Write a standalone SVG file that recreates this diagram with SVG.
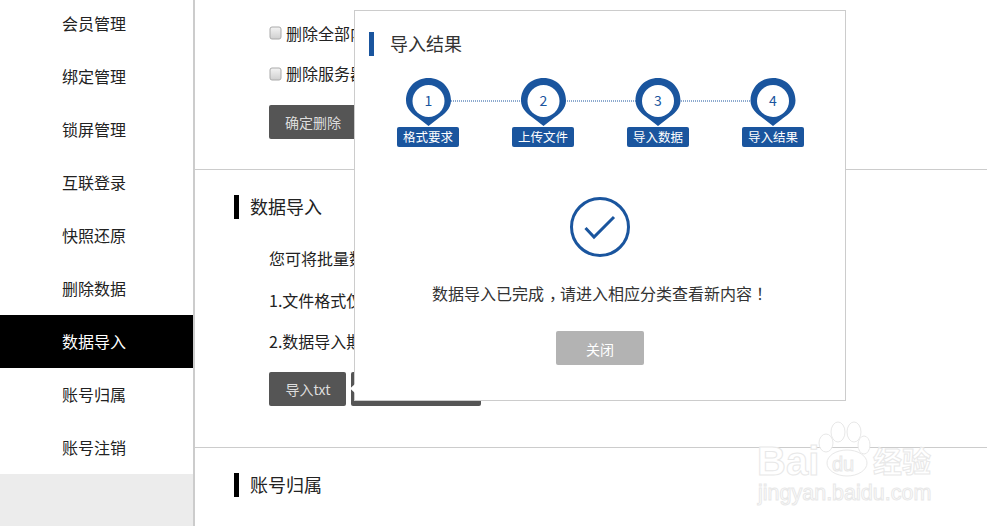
<svg xmlns="http://www.w3.org/2000/svg" width="987" height="526" viewBox="0 0 987 526">
<defs>
<style>
text{font-family:"Noto Sans CJK SC","Liberation Sans",sans-serif}
.nav{font-size:16px;fill:#222;text-anchor:middle}
.body{font-size:16px;fill:#222}
.h{font-size:18px;fill:#222}
.btn{font-size:14px;fill:#ddd;text-anchor:middle}
.line{stroke:#ccc;stroke-width:1;fill:none}
.dark{fill:#555}
.blue{fill:#1a559e}
.tag{font-size:12.5px;fill:#fff;text-anchor:middle}
.num{font-size:14px;fill:#1a559e;text-anchor:middle}
.wm{font-family:"Liberation Sans",sans-serif;fill:#fff;stroke:#e8e8e8;stroke-width:1}
.pad{fill:#fff;stroke:#e8e8e8;stroke-width:1}
</style>
<g id="pin"><path d="M0 -23C-13 -23 -22.500 -13 -22.500 -0.500C-22.500 8 -16 13 -9 18L0 25L9 18C16 13 22.500 8 22.500 -0.500C22.500 -13 13 -23 0 -23Z" class="blue"/><circle cx="0" cy="0" r="16" fill="#fff"/></g>
<linearGradient id="cb" x1="0" y1="0" x2="0" y2="1"><stop offset="0" stop-color="#f4f4f4"/><stop offset="1" stop-color="#cfcfcf"/></linearGradient>
</defs>
<rect width="987" height="526" fill="#fff"/>
<g id="sidebar">
<rect x="0" y="474" width="193" height="52" fill="#ececec"/>
<rect x="193" y="0" width="2" height="526" fill="#ccc"/>
<rect x="0" y="315" width="193" height="53" fill="#000"/>
<text class="nav" x="94" y="30">会员管理</text>
<text class="nav" x="94" y="83">绑定管理</text>
<text class="nav" x="94" y="136">锁屏管理</text>
<text class="nav" x="94" y="189">互联登录</text>
<text class="nav" x="94" y="242">快照还原</text>
<text class="nav" x="94" y="295">删除数据</text>
<text class="nav" x="94" y="348" style="fill:#fff">数据导入</text>
<text class="nav" x="94" y="401">账号归属</text>
<text class="nav" x="94" y="454">账号注销</text>
</g>
<g id="page">
<rect x="270" y="27" width="11" height="12" rx="2" fill="url(#cb)" stroke="#aaa"/>
<text class="body" x="286" y="40">删除全部内容</text>
<rect x="270" y="68" width="11" height="12" rx="2" fill="url(#cb)" stroke="#aaa"/>
<text class="body" x="286" y="80">删除服务器数据</text>
<rect x="269" y="105" width="100" height="34" rx="2" class="dark"/>
<text class="btn" x="313" y="128">确定删除</text>
<path class="line" d="M195 169.500H987M195 447.500H987"/>
<rect x="234" y="195" width="5" height="24" fill="#000"/>
<text class="h" x="250" y="214">数据导入</text>
<text class="body" x="269" y="265">您可将批量数据导入</text>
<text class="body" x="269" y="307">1.文件格式仅支持</text>
<text class="body" x="269" y="348">2.数据导入期间</text>
<rect x="269" y="372" width="77" height="34" rx="2" class="dark"/>
<text class="btn" x="308" y="395">导入txt</text>
<rect x="351" y="372" width="130" height="34" rx="2" class="dark"/>
<rect x="234" y="473" width="5" height="24" fill="#000"/>
<text class="h" x="250" y="492">账号归属</text>
</g>
<g id="modal">
<rect x="354.500" y="10.500" width="491" height="390" fill="#fff" stroke="#ccc"/>
<path d="M355 384L350 388.500L355 393Z" fill="#fff"/>
<rect x="369" y="32" width="5" height="24" class="blue"/>
<text x="390" y="51" style="font-size:18px;fill:#333">导入结果</text>
</g>
<g id="connectors">
<path d="M451 101H751" stroke="#1a559e" stroke-width="1" stroke-dasharray="1 1" fill="none"/>
</g>
<g id="step1"><use href="#pin" x="428.500" y="101"/><text class="num" x="428.500" y="106">1</text><rect x="397" y="127" width="62" height="20" rx="2" class="blue"/><text class="tag" x="428" y="141.500">格式要求</text></g>
<g id="step2"><use href="#pin" x="543.500" y="101"/><text class="num" x="543.500" y="106">2</text><rect x="512" y="127" width="62" height="20" rx="2" class="blue"/><text class="tag" x="543" y="141.500">上传文件</text></g>
<g id="step3"><use href="#pin" x="658" y="101"/><text class="num" x="658" y="106">3</text><rect x="627" y="127" width="62" height="20" rx="2" class="blue"/><text class="tag" x="658" y="141.500">导入数据</text></g>
<g id="step4"><use href="#pin" x="773" y="101"/><text class="num" x="773" y="106">4</text><rect x="742" y="127" width="62" height="20" rx="2" class="blue"/><text class="tag" x="773" y="141.500">导入结果</text></g>
<g id="result">
<circle cx="600" cy="227" r="28.500" fill="none" stroke="#1a559e" stroke-width="3"/>
<path d="M585.500 228L594 237L614 217" fill="none" stroke="#1a559e" stroke-width="3"/>
<text x="432" y="300" style="font-size:16px;fill:#333">数据导入已完成<tspan dx="5" style="letter-spacing:-5px">，</tspan>请进入相应分类查看新内容<tspan dx="4">！</tspan></text>
</g>
<g id="close"><rect x="556" y="331" width="88" height="34" rx="2" fill="#b3b3b3"/><text class="btn" x="600" y="355" style="fill:#fff">关闭</text></g>
<g id="watermark">
<text class="wm" x="757" y="475" style="font-size:40px;font-weight:700">Bai</text>
<ellipse class="pad" cx="826" cy="443" rx="7" ry="9"/><ellipse class="pad" cx="838" cy="432" rx="7" ry="10"/><ellipse class="pad" cx="854" cy="432" rx="7" ry="10"/><ellipse class="pad" cx="864" cy="445" rx="6" ry="9"/>
<ellipse class="pad" cx="847" cy="463" rx="20" ry="13"/>
<text class="wm" x="832" y="471" style="font-size:20px">du</text>
<text x="873" y="473" style="font-size:29px;font-weight:700;fill:#fff;stroke:#e8e8e8;stroke-width:1">经验</text>
<text class="wm" x="758" y="500" style="font-size:21.500px">jingyan.baidu.com</text>
</g>
</svg>
